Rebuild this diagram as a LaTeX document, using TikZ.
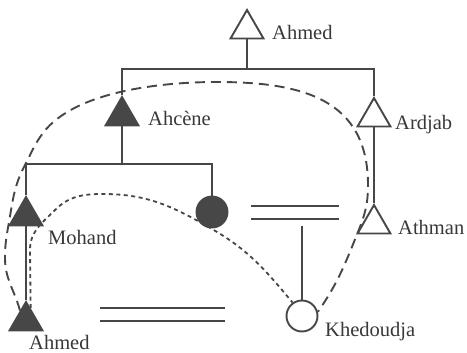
\documentclass[tikz,border=0pt]{standalone}
\usepackage{fontspec}
\setmainfont{Liberation Serif}
\usetikzlibrary{shapes.geometric}
\begin{document}
\begin{tikzpicture}[x=1pt,y=1pt,
 line/.style={draw=black!72, line width=1.6pt},
 tri/.style={regular polygon, regular polygon sides=3, minimum size=38pt, inner sep=0pt, draw=black!72, line width=1.9pt},
 male/.style={tri, fill=white},
 maled/.style={tri, fill=black!72},
 circ/.style={circle, minimum size=31pt, inner sep=0pt, draw=black!72, line width=1.9pt},
 lbl/.style={anchor=base west, inner sep=0pt, font=\fontsize{20.5}{24}\selectfont, text=black!78},
 longdash/.style={draw=black!72, line width=1.9pt, dash pattern=on 10pt off 6pt},
 shortdash/.style={draw=black!72, line width=1.8pt, dash pattern=on 4pt off 3.5pt}
]
\useasboundingbox (0,0) rectangle (467,-353);
% people
\node[male]  (A0) at (247,-29) {};
\node[maled] (Ah) at (122,-116) {};
\node[male]  (Ar) at (374,-117) {};
\node[maled] (Mo) at (26,-216) {};
\node[circ, fill=black!72] (D) at (212,-212) {};
\node[male]  (At) at (374,-224) {};
\node[circ, fill=white] (Kh) at (302,-316) {};
\node[maled] (A2) at (26,-321) {};
% labels
\node[lbl] (lA0) at (272,-40) {Ahmed};
\node[lbl] (lAh) at (148,-126) {Ahcène};
\node[lbl] (lAr) at (395,-130) {Ardjab};
\node[lbl] (lMo) at (48,-244) {Mohand};
\node[lbl] (lAt) at (398,-235) {Athman};
\node[lbl] (lKh) at (325,-337) {Khedoudja};
\node[lbl] (lA2) at (29,-349) {Ahmed};
% tree
\coordinate (b1) at (247,-69);
\coordinate (b2) at (122,-164);
\draw[line] (A0.south) -- (b1);
\draw[line] (Ah.north) -- (Ah.north |- b1) -- (Ar.north |- b1) -- (Ar.north);
\draw[line] (Ah.south) -- (Ah.south |- b2);
\draw[line] (Mo.north) -- (Mo.north |- b2) -- (D.north |- b2) -- (D.north);
\draw[line] (Ar.south) -- (At.north);
\draw[line] (Mo.south) -- (A2.north);
% marriage signs
\coordinate (m1a) at (251,-206); \coordinate (m1b) at (339,-206);
\coordinate (m1c) at (251,-219); \coordinate (m1d) at (339,-219);
\coordinate (m1v) at (302,-226);
\draw[line] (m1a) -- (m1b);
\draw[line] (m1c) -- (m1d);
\draw[line] (m1v) -- (Kh.north);
\coordinate (m2a) at (100,-308); \coordinate (m2b) at (225,-308);
\coordinate (m2c) at (100,-321); \coordinate (m2d) at (225,-321);
\draw[line] (m2a) -- (m2b);
\draw[line] (m2c) -- (m2d);
% long dashed curve
\coordinate (p0) at (5,-258);
\coordinate (pA) at (9,-222);
\coordinate (pB) at (25,-165);
\coordinate (p2) at (43,-133);
\coordinate (p3) at (217,-82);
\coordinate (p4) at (368,-185);
\coordinate (p5) at (358,-232);
\draw[longdash] (A2.120) to[out=105,in=-90] (p0) to[out=90,in=-100] (pA)
  to[out=80,in=-118] (pB) to[out=62,in=233] (p2)
  to[out=53,in=180,looseness=0.75] (p3) to[out=0,in=90,looseness=1.2] (p4)
  to[out=-90,in=68] (p5) to[out=-112,in=55] (Kh.15);
% short dashed curve
\coordinate (q1) at (30,-250);
\coordinate (q2) at (55,-210);
\coordinate (q3) at (103,-194);
\coordinate (q4) at (212,-229);
\draw[shortdash] (A2.70) -- (q1) to[out=90,in=225] (q2) to[out=45,in=180] (q3)
  to[out=0,in=150] (q4) to[out=-30,in=130] (Kh.125);
\end{tikzpicture}
\end{document}
